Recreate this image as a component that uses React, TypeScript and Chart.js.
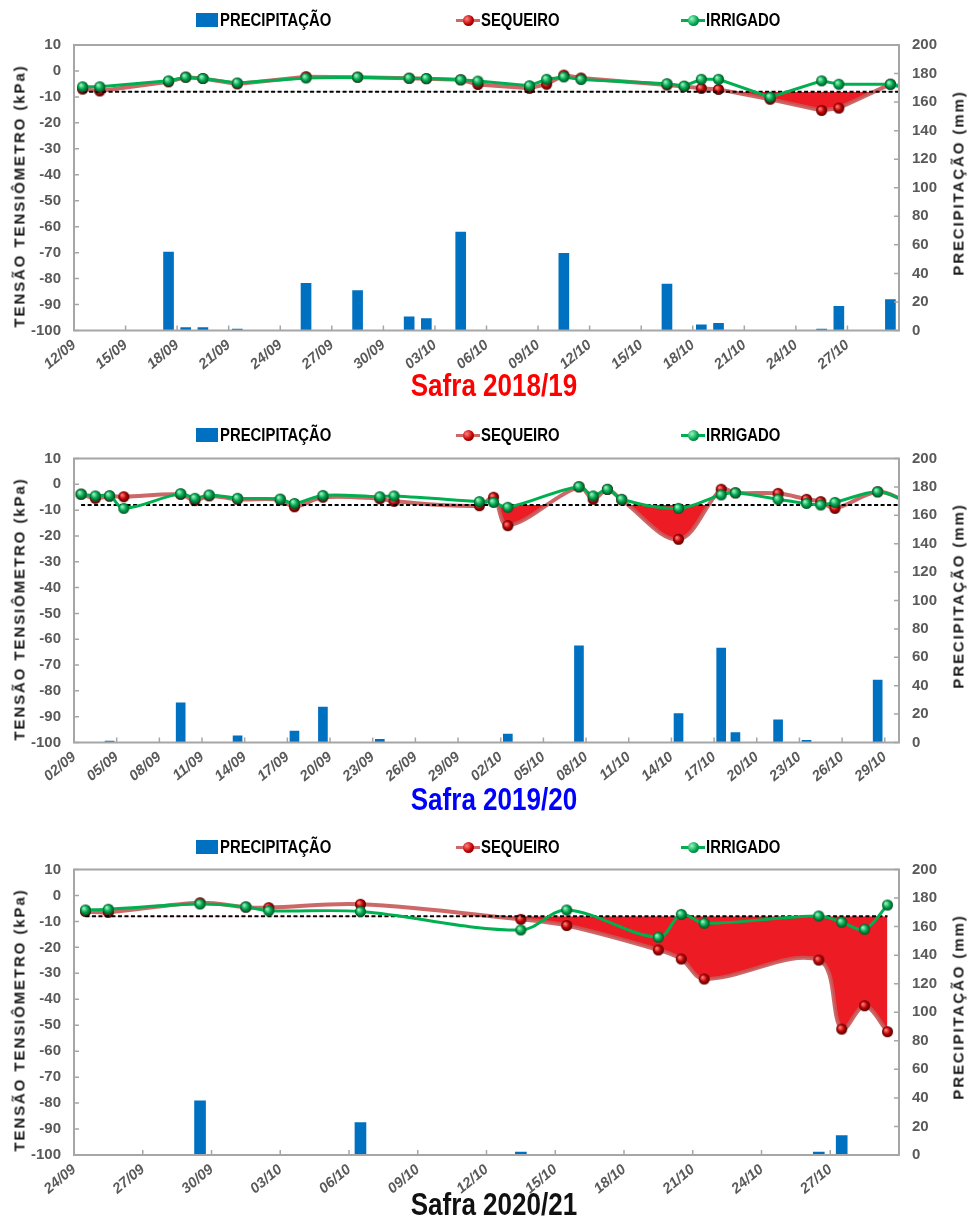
import React, { useEffect, useRef } from 'react';
import { Chart, registerables } from 'chart.js';

Chart.register(...registerables);

// ---------------- DATA ----------------
const LIMIT = -8;
const LEGEND_RAIN = 'PRECIPITAÇÃO';
const LEGEND_SEQ = 'SEQUEIRO';
const LEGEND_IRR = 'IRRIGADO';
const LEFT_TITLE = 'TENSÃO TENSIÔMETRO (kPa)';
const RIGHT_TITLE = 'PRECIPITAÇÃO (mm)';

// Safra 2018/19
const s1Title = 'Safra 2018/19';
const s1Year = 2018;
const s1Start = '12/09';
const s1End = '30/10';
const s1Ticks = ['12/09', '15/09', '18/09', '21/09', '24/09', '27/09', '30/09', '03/10', '06/10', '09/10', '12/10', '15/10', '18/10', '21/10', '24/10', '27/10'];
const s1Dates = ['12/09', '13/09', '17/09', '18/09', '19/09', '21/09', '25/09', '28/09', '01/10', '02/10', '04/10', '05/10', '08/10', '09/10', '10/10', '11/10', '16/10', '17/10', '18/10', '19/10', '22/10', '25/10', '26/10', '29/10', '30/10'];
const s1Sequeiro = [-7.0, -7.7, -4.2, -2.4, -2.9, -5.0, -2.2, -2.4, -2.8, -3.0, -3.4, -5.2, -6.7, -5.1, -1.6, -2.7, -5.4, -6.0, -6.7, -7.1, -10.9, -15.2, -14.3, -5.1, -6.5];
const s1Irrigado = [-6.1, -6.1, -3.8, -2.4, -2.9, -4.6, -2.7, -2.4, -2.8, -2.9, -3.4, -3.9, -5.7, -3.2, -2.3, -3.3, -4.9, -5.8, -3.2, -3.2, -10.1, -3.8, -5.1, -5.1, -6.5];
const s1RainDates = ['17/09', '18/09', '19/09', '21/09', '25/09', '28/09', '01/10', '02/10', '04/10', '10/10', '16/10', '18/10', '19/10', '25/10', '26/10', '29/10'];
const s1Rain = [55, 2, 2, 1, 33, 28, 9.6, 8.4, 69, 54, 32.6, 4, 5, 1, 17, 21.6];
const s1LimitDates = ['12/09', '30/10'];

// Safra 2019/20
const s2Title = 'Safra 2019/20';
const s2Year = 2019;
const s2Start = '02/09';
const s2End = '30/10';
const s2Ticks = ['02/09', '05/09', '08/09', '11/09', '14/09', '17/09', '20/09', '23/09', '26/09', '29/09', '02/10', '05/10', '08/10', '11/10', '14/10', '17/10', '20/10', '23/10', '26/10', '29/10'];
const s2Dates = ['02/09', '03/09', '04/09', '05/09', '09/09', '10/09', '11/09', '13/09', '16/09', '17/09', '19/09', '23/09', '24/09', '30/09', '01/10', '02/10', '07/10', '08/10', '09/10', '10/10', '14/10', '17/10', '18/10', '21/10', '23/10', '24/10', '25/10', '28/10', '30/10'];
const s2Sequeiro = [-3.8, -5.4, -4.6, -4.8, -3.9, -6.3, -4.5, -5.8, -6.0, -8.7, -5.0, -5.6, -6.6, -8.3, -5.0, -16.0, -1.0, -5.8, -2.0, -6.0, -21.3, -1.9, -3.3, -3.5, -5.8, -6.7, -9.3, -2.9, -6.5];
const s2Irrigado = [-3.8, -4.5, -4.4, -9.3, -3.6, -5.4, -4.1, -5.4, -5.7, -7.4, -4.3, -4.8, -4.5, -6.7, -7.0, -8.9, -0.9, -4.5, -1.9, -5.8, -9.3, -4.1, -3.3, -5.8, -7.4, -8.0, -7.0, -2.9, -6.5];
const s2RainDates = ['04/09', '09/09', '13/09', '17/09', '19/09', '23/09', '02/10', '07/10', '14/10', '17/10', '18/10', '21/10', '23/10', '28/10'];
const s2Rain = [1, 28, 4.7, 8, 25, 2.3, 6, 68, 20.3, 66.5, 7, 16, 1.5, 44];
const s2LimitDates = ['02/09', '30/10'];

// Safra 2020/21
const s3Title = 'Safra 2020/21';
const s3Year = 2020;
const s3Start = '24/09';
const s3End = '30/10';
const s3Ticks = ['24/09', '27/09', '30/09', '03/10', '06/10', '09/10', '12/10', '15/10', '18/10', '21/10', '24/10', '27/10'];
const s3Dates = ['24/09', '25/09', '29/09', '01/10', '02/10', '06/10', '13/10', '15/10', '19/10', '20/10', '21/10', '26/10', '27/10', '28/10', '29/10'];
const s3Sequeiro = [-6.2, -6.5, -2.8, -4.5, -4.7, -3.4, -9.2, -11.6, -21.0, -24.5, -32.2, -24.9, -51.5, -42.5, -52.5];
const s3Irrigado = [-5.6, -5.3, -3.3, -4.4, -5.9, -6.2, -13.3, -5.6, -16.1, -7.3, -10.7, -7.9, -10.3, -13.0, -3.7];
const s3RainDates = ['29/09', '06/10', '13/10', '26/10', '27/10'];
const s3Rain = [38, 22.7, 2, 2, 13.6];
const s3LimitDates = ['24/09', '29/10'];

// ---------------- STYLE ----------------
const SANS = '"Liberation Sans", Arial, sans-serif';
const GREEN = '#00B050';
const RED_LINE = 'rgba(200, 88, 88, 0.9)';
const FILL_RED = '#ED1C24';
const BLUE = '#0070C0';
const TICK_COLOR = '#595959';

function dayIndex(start: string, d: string, year: number) {
  const [sd, sm] = start.split('/').map(Number);
  const [dd, dm] = d.split('/').map(Number);
  return Math.round((Date.UTC(year, dm - 1, dd) - Date.UTC(year, sm - 1, sd)) / 86400000);
}

function makeSphere(r: number, light: string, mid: string, dark: string) {
  const size = Math.ceil(r * 2) + 2;
  const c = document.createElement('canvas');
  c.width = size;
  c.height = size;
  const ctx = c.getContext('2d')!;
  const cx = size / 2;
  const g = ctx.createRadialGradient(cx - r * 0.35, cx - r * 0.35, r * 0.1, cx, cx, r);
  g.addColorStop(0, light);
  g.addColorStop(0.55, mid);
  g.addColorStop(1, dark);
  ctx.fillStyle = g;
  ctx.beginPath();
  ctx.arc(cx, cx, r, 0, Math.PI * 2);
  ctx.fill();
  return c;
}

const framePlugin = {
  id: 'frame',
  afterDatasetsDraw(chart: any) {
    const { ctx, chartArea: a, scales } = chart;
    ctx.save();
    ctx.strokeStyle = '#A6A6A6';
    ctx.lineWidth = 2;
    ctx.strokeRect(a.left, a.top, a.right - a.left, a.bottom - a.top);
    ctx.lineWidth = 1.5;
    ctx.beginPath();
    scales.y.ticks.forEach((t: any) => {
      const p = scales.y.getPixelForValue(t.value);
      ctx.moveTo(a.left, p);
      ctx.lineTo(a.left + 5, p);
    });
    scales.y1.ticks.forEach((t: any) => {
      const p = scales.y1.getPixelForValue(t.value);
      ctx.moveTo(a.right - 5, p);
      ctx.lineTo(a.right, p);
    });
    scales.x.ticks.forEach((t: any) => {
      const p = scales.x.getPixelForValue(t.value);
      ctx.moveTo(p, a.bottom);
      ctx.lineTo(p, a.bottom - 5);
    });
    ctx.stroke();
    ctx.restore();
  },
};

type PanelProps = {
  top: number;
  height: number;
  plotTop: number;
  plotBottom: number;
  year: number;
  start: string;
  end: string;
  ticks: string[];
  dates: string[];
  sequeiro: number[];
  irrigado: number[];
  rainDates: string[];
  rain: number[];
  limitDates: string[];
  tension: number;
  barThickness: number;
  title: string;
  titleColor: string;
  titleY: number;
  legendY: number;
};

const PLOT_LEFT = 74;
const PLOT_RIGHT = 899;
const W = 971;

function Panel(p: PanelProps) {
  const ref = useRef<HTMLCanvasElement>(null);
  useEffect(() => {
    const greenSphere = makeSphere(5.5, '#9BF5BE', '#00A651', '#00501F');
    const redSphere = makeSphere(5.5, '#FF8080', '#C00000', '#4A0000');
    const xOf = (d: string) => dayIndex(p.start, d, p.year) + 0.5;
    const span = dayIndex(p.start, p.end, p.year);
    const tickVals = p.ticks.map((t) => dayIndex(p.start, t, p.year));
    const xAxisH = 50;
    const chart = new Chart(ref.current!, {
      type: 'bar',
      data: {
        datasets: [
          {
            type: 'line',
            label: LEGEND_IRR,
            data: p.dates.map((d, i) => ({ x: xOf(d), y: p.irrigado[i] })),
            yAxisID: 'y',
            borderColor: GREEN,
            borderWidth: 3,
            pointStyle: greenSphere as any,
            pointRadius: 6,
            tension: p.tension,
            fill: false,
            order: 0,
          } as any,
          {
            type: 'line',
            label: 'limite',
            data: p.limitDates.map((d) => ({ x: xOf(d), y: LIMIT })),
            yAxisID: 'y',
            borderColor: '#000000',
            borderWidth: 2,
            borderDash: [4, 2.5],
            pointRadius: 0,
            tension: 0,
            fill: false,
            order: 1,
          } as any,
          {
            type: 'line',
            label: LEGEND_SEQ,
            data: p.dates.map((d, i) => ({ x: xOf(d), y: p.sequeiro[i] })),
            yAxisID: 'y',
            borderColor: RED_LINE,
            borderWidth: 4,
            pointStyle: redSphere as any,
            pointRadius: 6,
            tension: p.tension,
            fill: { target: { value: LIMIT }, above: 'rgba(0,0,0,0)', below: FILL_RED },
            order: 2,
          } as any,
          {
            type: 'bar',
            label: LEGEND_RAIN,
            data: p.rainDates.map((d, i) => ({ x: xOf(d), y: p.rain[i] })),
            yAxisID: 'y1',
            backgroundColor: BLUE,
            barThickness: p.barThickness,
            order: 3,
          } as any,
        ],
      },
      options: {
        responsive: false,
        maintainAspectRatio: false,
        animation: false,
        events: [],
        layout: {
          padding: {
            top: p.plotTop - p.top,
            left: 0,
            right: 0,
            bottom: p.height - (p.plotBottom - p.top) - xAxisH,
          },
        },
        plugins: {
          legend: { display: false },
          tooltip: { enabled: false },
          title: { display: false },
        },
        scales: {
          x: {
            type: 'linear',
            min: 0,
            max: span,
            offset: false,
            grid: { display: false, drawTicks: false },
            border: { display: false },
            afterBuildTicks: (s: any) => {
              s.ticks = tickVals.map((v) => ({ value: v }));
            },
            afterFit: (s: any) => {
              s.height = xAxisH;
            },
            ticks: {
              autoSkip: false,
              minRotation: 40,
              maxRotation: 40,
              padding: 6,
              color: TICK_COLOR,
              font: { family: SANS, size: 14.5, weight: 'bold', style: 'italic' },
              callback: (_v: any, i: number) => p.ticks[i],
            },
          } as any,
          y: {
            type: 'linear',
            position: 'left',
            min: -100,
            max: 10,
            grid: { display: false, drawTicks: false },
            border: { display: false },
            afterFit: (s: any) => {
              s.width = PLOT_LEFT;
            },
            ticks: {
              stepSize: 10,
              padding: 13,
              color: TICK_COLOR,
              font: { family: SANS, size: 15, weight: 'bold' },
            },
          } as any,
          y1: {
            type: 'linear',
            position: 'right',
            min: 0,
            max: 200,
            grid: { display: false, drawTicks: false },
            border: { display: false },
            afterFit: (s: any) => {
              s.width = W - PLOT_RIGHT;
            },
            ticks: {
              stepSize: 20,
              padding: 13,
              color: TICK_COLOR,
              font: { family: SANS, size: 15, weight: 'bold' },
            },
          } as any,
        },
      },
      plugins: [framePlugin],
    });
    return () => chart.destroy();
  }, []);

  const midY = (p.plotTop + p.plotBottom) / 2 - p.top;
  const ly = p.legendY - p.top;
  const legendText: React.CSSProperties = {
    position: 'absolute',
    top: ly - 12,
    height: 24,
    lineHeight: '24px',
    fontFamily: SANS,
    fontWeight: 'bold',
    fontSize: 17.5,
    color: '#000',
    whiteSpace: 'nowrap',
    transform: 'scaleX(0.85)',
    transformOrigin: '0 50%',
  };
  const sphereCss = (light: string, mid: string, dark: string): React.CSSProperties => ({
    position: 'absolute',
    width: 11,
    height: 11,
    borderRadius: '50%',
    background: `radial-gradient(circle at 35% 35%, ${light}, ${mid} 55%, ${dark})`,
  });
  const axisTitle: React.CSSProperties = {
    position: 'absolute',
    fontFamily: SANS,
    fontWeight: 'bold',
    fontSize: 15,
    letterSpacing: '1.9px',
    color: '#1a1a1a',
    whiteSpace: 'nowrap',
    transform: 'translate(-50%, -50%) rotate(-90deg)',
  };

  return (
    <div style={{ position: 'absolute', left: 0, top: p.top, width: W, height: p.height }}>
      <canvas ref={ref} width={W} height={p.height} style={{ display: 'block', position: 'absolute', left: 0, top: 0 }} />
      {/* legend */}
      <div style={{ position: 'absolute', left: 196, top: ly - 7, width: 22, height: 14, background: BLUE }} />
      <div style={{ ...legendText, left: 220 }}>{LEGEND_RAIN}</div>
      <div style={{ position: 'absolute', left: 456, top: ly - 1.5, width: 24, height: 3, background: RED_LINE }} />
      <div style={{ ...sphereCss('#FF8080', '#C00000', '#4A0000'), left: 462.5, top: ly - 5.5 }} />
      <div style={{ ...legendText, left: 481 }}>{LEGEND_SEQ}</div>
      <div style={{ position: 'absolute', left: 681, top: ly - 1.5, width: 24, height: 3, background: GREEN }} />
      <div style={{ ...sphereCss('#9BF5BE', '#00A651', '#00501F'), left: 687.5, top: ly - 5.5 }} />
      <div style={{ ...legendText, left: 706 }}>{LEGEND_IRR}</div>
      {/* axis titles */}
      <div style={{ ...axisTitle, left: 19, top: midY + 8 }}>{LEFT_TITLE}</div>
      <div style={{ ...axisTitle, left: 958, top: midY - 5 }}>{RIGHT_TITLE}</div>
      {/* panel title */}
      <div
        style={{
          position: 'absolute',
          left: 494,
          top: p.titleY - p.top,
          transform: 'translate(-50%, -50%) scaleX(0.84)',
          fontFamily: SANS,
          fontWeight: 'bold',
          fontSize: 31,
          color: p.titleColor,
          whiteSpace: 'nowrap',
        }}
      >
        {p.title}
      </div>
    </div>
  );
}

export default function App() {
  return (
    <div style={{ position: 'absolute', left: 0, top: 0, width: W, height: 1225, background: '#ffffff', overflow: 'hidden' }}>
      <Panel
        top={0}
        height={405}
        plotTop={45}
        plotBottom={330.5}
        year={s1Year}
        start={s1Start}
        end={s1End}
        ticks={s1Ticks}
        dates={s1Dates}
        sequeiro={s1Sequeiro}
        irrigado={s1Irrigado}
        rainDates={s1RainDates}
        rain={s1Rain}
        limitDates={s1LimitDates}
        tension={0}
        barThickness={10}
        title={s1Title}
        titleColor="#FF0000"
        titleY={386}
        legendY={20}
      />
      <Panel
        top={410}
        height={405}
        plotTop={458.5}
        plotBottom={742.5}
        year={s2Year}
        start={s2Start}
        end={s2End}
        ticks={s2Ticks}
        dates={s2Dates}
        sequeiro={s2Sequeiro}
        irrigado={s2Irrigado}
        rainDates={s2RainDates}
        rain={s2Rain}
        limitDates={s2LimitDates}
        tension={0.35}
        barThickness={9}
        title={s2Title}
        titleColor="#0000FF"
        titleY={800}
        legendY={435}
      />
      <Panel
        top={820}
        height={405}
        plotTop={869.5}
        plotBottom={1155}
        year={s3Year}
        start={s3Start}
        end={s3End}
        ticks={s3Ticks}
        dates={s3Dates}
        sequeiro={s3Sequeiro}
        irrigado={s3Irrigado}
        rainDates={s3RainDates}
        rain={s3Rain}
        limitDates={s3LimitDates}
        tension={0.35}
        barThickness={11}
        title={s3Title}
        titleColor="#111111"
        titleY={1205}
        legendY={847}
      />
    </div>
  );
}
